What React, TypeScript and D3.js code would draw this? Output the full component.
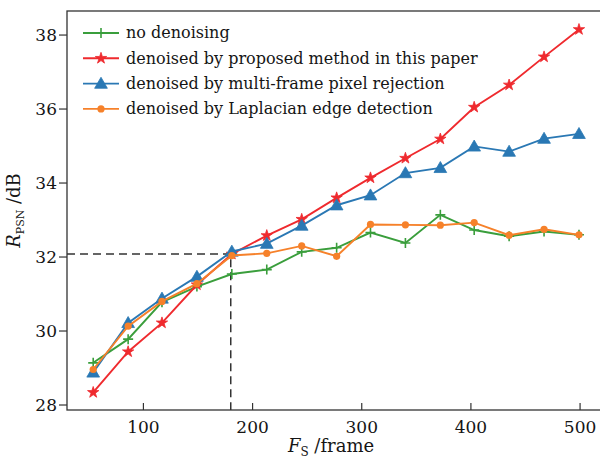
import React from "react";
import * as d3 from "d3";

const WIDTH = 600;
const HEIGHT = 461;

// plot box in px (right spine sits just outside the picture)
const BOX = { left: 67, right: 603, top: 11, bottom: 410 };

const X_DOMAIN = [30, 521];
const Y_DOMAIN = [27.865, 38.65];

const X_TICKS = [100, 200, 300, 400, 500];
const Y_TICKS = [28, 30, 32, 34, 36, 38];

const FRAMES = [54, 86, 117, 149, 181, 213, 245, 277, 308, 340, 372, 403, 435, 467, 499];

const NO_DENOISING = [29.14, 29.78, 30.78, 31.2, 31.54, 31.66, 32.14, 32.25, 32.66, 32.38, 33.14, 32.73, 32.56, 32.69, 32.6];
const PROPOSED = [28.34, 29.44, 30.22, 31.25, 32.08, 32.58, 33.02, 33.6, 34.14, 34.67, 35.19, 36.05, 36.65, 37.41, 38.15];
const MULTI_FRAME = [28.88, 30.22, 30.88, 31.47, 32.15, 32.36, 32.85, 33.4, 33.67, 34.27, 34.41, 34.99, 34.85, 35.2, 35.33];
const LAPLACIAN = [28.96, 30.13, 30.8, 31.28, 32.04, 32.1, 32.3, 32.02, 32.88, 32.87, 32.86, 32.93, 32.59, 32.75, 32.6];

const SERIES_NAMES = [
  "no denoising",
  "denoised by proposed method in this paper",
  "denoised by multi-frame pixel rejection",
  "denoised by Laplacian edge detection",
];
const SERIES_COLORS = ["#3a9e3c", "#ef2a2e", "#2a78b4", "#f6812a"];
const SERIES_MARKERS = ["plus", "star", "triangle", "circle"];
const SERIES_VALUES = [NO_DENOISING, PROPOSED, MULTI_FRAME, LAPLACIAN];

// the dashed guide
const GUIDE_X = 180;
const GUIDE_Y = 32.08;

const FONT = "'DejaVu Serif', serif";
const INK = "#151515";

const starPath = d3.symbol(d3.symbolStar, 40)()!;
const trianglePath = d3.symbol(d3.symbolTriangle, 70)()!;

function Marker({ kind, color, x, y }: { kind: string; color: string; x: number; y: number }) {
  if (kind === "plus") {
    return (
      <path
        d="M-5,0H5M0,-5V5"
        transform={`translate(${x},${y})`}
        stroke={color}
        strokeWidth={1.6}
        fill="none"
      />
    );
  }
  if (kind === "star") {
    return <path d={starPath} transform={`translate(${x},${y})`} fill={color} stroke={color} strokeWidth={0.8} />;
  }
  if (kind === "triangle") {
    return <path d={trianglePath} transform={`translate(${x},${y + 1})`} fill={color} stroke={color} strokeWidth={0.8} />;
  }
  return <circle cx={x} cy={y} r={3.6} fill={color} />;
}

export default function App() {
  const xScale = d3.scaleLinear().domain(X_DOMAIN).range([BOX.left, BOX.right]);
  const yScale = d3.scaleLinear().domain(Y_DOMAIN).range([BOX.bottom, BOX.top]);

  const line = d3
    .line<number>()
    .x((_, i) => xScale(FRAMES[i]))
    .y((d) => yScale(d));

  const legendTop = 33;
  const legendStep = 25.3;

  return (
    <svg
      width={WIDTH}
      height={HEIGHT}
      style={{ position: "absolute", left: 0, top: 0, background: "#fff" }}
      fontFamily={FONT}
    >
      <rect width={WIDTH} height={HEIGHT} fill="#fff" />

      {/* dashed guide */}
      <path
        d={`M${BOX.left},${yScale(GUIDE_Y)}H${xScale(GUIDE_X)}V${BOX.bottom}`}
        fill="none"
        stroke="#333"
        strokeWidth={1.5}
        strokeDasharray="8,5"
      />

      {/* series */}
      {SERIES_VALUES.map((vals, s) => (
        <g key={s}>
          <path d={line(vals)!} fill="none" stroke={SERIES_COLORS[s]} strokeWidth={1.9} />
          {vals.map((v, i) => (
            <Marker key={i} kind={SERIES_MARKERS[s]} color={SERIES_COLORS[s]} x={xScale(FRAMES[i])} y={yScale(v)} />
          ))}
        </g>
      ))}

      {/* frame */}
      <rect
        x={BOX.left}
        y={BOX.top}
        width={BOX.right - BOX.left}
        height={BOX.bottom - BOX.top}
        fill="none"
        stroke="#333"
        strokeWidth={1.3}
      />

      {/* y axis ticks (outward) */}
      {Y_TICKS.map((t) => (
        <g key={t}>
          <line x1={BOX.left - 8} x2={BOX.left} y1={yScale(t)} y2={yScale(t)} stroke="#333" strokeWidth={1.2} />
          <text x={BOX.left - 10} y={yScale(t)} dy="0.36em" textAnchor="end" fontSize={17} fill={INK}>
            {t}
          </text>
        </g>
      ))}

      {/* x axis ticks (inward) */}
      {X_TICKS.map((t) => (
        <g key={t}>
          <line x1={xScale(t)} x2={xScale(t)} y1={BOX.bottom - 7} y2={BOX.bottom} stroke="#333" strokeWidth={1.2} />
          <text x={xScale(t)} y={433} textAnchor="middle" fontSize={17} fill={INK}>
            {t}
          </text>
        </g>
      ))}

      {/* axis labels */}
      <text x={331} y={452} textAnchor="middle" fontSize={18} fill={INK}>
        <tspan fontStyle="italic">F</tspan>
        <tspan fontSize={12} dy={4}>S</tspan>
        <tspan dy={-4}> /frame</tspan>
      </text>
      <text transform={`translate(20,${(BOX.top + BOX.bottom) / 2}) rotate(-90)`} textAnchor="middle" fontSize={18} fill={INK}>
        <tspan fontStyle="italic">R</tspan>
        <tspan fontSize={11} dy={4}>PSN</tspan>
        <tspan dy={-4}> /dB</tspan>
      </text>

      {/* legend */}
      {SERIES_NAMES.map((name, s) => {
        const y = legendTop + s * legendStep;
        return (
          <g key={name}>
            <line x1={83} x2={119} y1={y} y2={y} stroke={SERIES_COLORS[s]} strokeWidth={1.9} />
            <Marker kind={SERIES_MARKERS[s]} color={SERIES_COLORS[s]} x={101} y={y} />
            <text x={126} y={y} dy="0.33em" fontSize={16} fill={INK}>
              {name}
            </text>
          </g>
        );
      })}
    </svg>
  );
}
